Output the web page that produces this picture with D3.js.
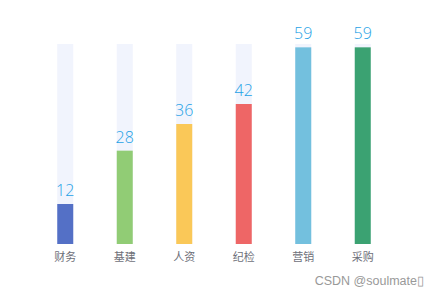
<!DOCTYPE html>
<html>
<head>
<meta charset="utf-8">
<script src="https://d3js.org/d3.v7.min.js"></script>
<style>
  body { margin: 0; background: #fff; }
  .cat { font-family: "Noto Sans CJK SC", sans-serif; font-size: 11px; fill: #6e7079; }
  .val { font-family: "Open Sans", sans-serif; font-size: 16px; font-weight: 300; fill: #1ea2e6; }
  .mark { font-family: "Liberation Sans", sans-serif; font-size: 12.5px; fill: #999; }
</style>
</head>
<body>
<div id="chart"></div>
<script>
const categories = ['财务', '基建', '人资', '纪检', '营销', '采购'];
const values = [12, 28, 36, 42, 59, 59];
const colors = ['#5470c6', '#91cc75', '#fac858', '#ee6666', '#73c0de', '#3ba272'];
const maxValue = 60;

const width = 426, height = 297;
const svg = d3.select('#chart').append('svg')
  .attr('width', width)
  .attr('height', height);

const x = d3.scaleBand()
  .domain(categories)
  .range([35.5, 392.5]);

const y = d3.scaleLinear()
  .domain([0, maxValue])
  .range([244, 44]);

const barW = 16;
const cx = d => x(d) + x.bandwidth() / 2;

// background track
svg.selectAll('.bg')
  .data(categories)
  .join('rect')
  .attr('x', d => cx(d) - barW / 2)
  .attr('y', y(maxValue))
  .attr('width', barW)
  .attr('height', y(0) - y(maxValue))
  .attr('fill', '#f1f4fd');

svg.selectAll('.bar')
  .data(categories)
  .join('rect')
  .attr('x', d => cx(d) - barW / 2)
  .attr('y', (d, i) => y(values[i]))
  .attr('width', barW)
  .attr('height', (d, i) => y(0) - y(values[i]))
  .attr('fill', (d, i) => colors[i]);

svg.selectAll('.val')
  .data(categories)
  .join('text')
  .attr('class', 'val')
  .attr('x', cx)
  .attr('y', (d, i) => y(values[i]) - 8)
  .attr('text-anchor', 'middle')
  .text((d, i) => values[i]);

svg.selectAll('.cat')
  .data(categories)
  .join('text')
  .attr('class', 'cat')
  .attr('x', cx)
  .attr('y', 261)
  .attr('text-anchor', 'middle')
  .text(d => d);

svg.append('text')
  .attr('class', 'mark')
  .attr('x', 424)
  .attr('y', 285)
  .attr('text-anchor', 'end')
  .text('CSDN @soulmate\u25AF');
</script>
</body>
</html>
